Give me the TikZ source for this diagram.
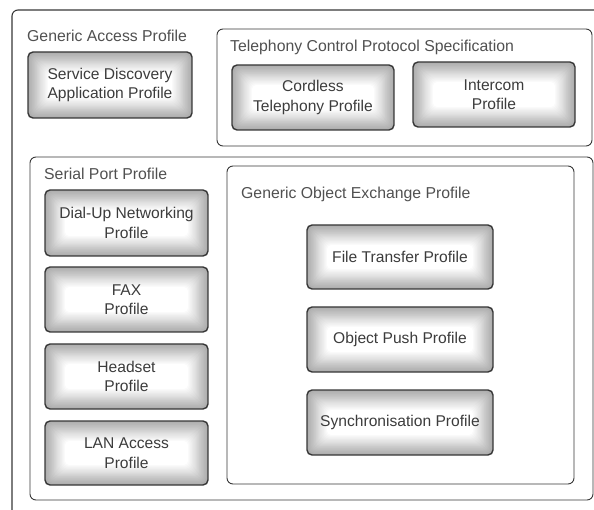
\documentclass[tikz,border=0pt]{standalone}
\usepackage{fontspec}
\setmainfont{Liberation Sans}
\definecolor{edgegray}{RGB}{172,172,172}
\definecolor{ink}{RGB}{60,60,60}
\definecolor{titleink}{RGB}{80,80,80}
\definecolor{frame}{RGB}{55,55,55}
\tikzset{
  % shaded profile box: grey rim fading to a white centre
  profile/.style={draw=frame, line width=1.4pt, rounded corners=5pt,
    align=center, text=ink, inner sep=0pt,
    font=\fontsize{15.6}{19.5}\selectfont,
    path picture={
      \foreach \i in {0,...,18}{
        \pgfmathtruncatemacro\w{\i*100/18}
        \pgfmathsetmacro\d{\i*1.1}
        \fill[white!\w!edgegray, rounded corners=5pt]
          ([xshift=\d pt, yshift=\d pt]path picture bounding box.south west)
          rectangle
          ([xshift=-\d pt, yshift=-\d pt]path picture bounding box.north east);
      }
    }},
  group/.style={draw=frame, line width=0.9pt, rounded corners=6pt, inner sep=0pt},
  grouptitle/.style={anchor=west, inner sep=0pt, text=titleink,
    font=\fontsize{15.8}{18}\selectfont}
}
\begin{document}
\begin{tikzpicture}[x=1pt, y=-1pt]
  \useasboundingbox (0,0) rectangle (594,510);
  \clip (0,0) rectangle (594,510);

  % outermost frame, running off the right and bottom edges
  \node[group, line width=1.1pt, minimum width=598, minimum height=520] (gap) at (311,270) {};
  \node[grouptitle] (gaptitle) at (27,36) {Generic Access Profile};
  \node[profile, minimum width=164, minimum height=66] (sdap) at (110,85)
    {Service Discovery\\Application Profile};

  % telephony group
  \node[group, minimum width=375, minimum height=117] (tcs) at (404.5,87.5) {};
  \node[grouptitle] (tcstitle) at (230,47) {Telephony Control Protocol Specification};
  \node[profile, minimum width=162, minimum height=65] (ctp) at (313,97.5)
    {Cordless\\Telephony Profile};
  \node[profile, minimum width=162, minimum height=65] (icp) at (494,94.5)
    {Intercom\\Profile};

  % serial port group
  \node[group, minimum width=563, minimum height=343] (spp) at (311.5,328.5) {};
  \node[grouptitle] (spptitle) at (44,174) {Serial Port Profile};
  \node[profile, minimum width=163, minimum height=66] (dun) at (126.5,223)
    {Dial-Up Networking\\Profile};
  \node[profile, minimum width=163, minimum height=65] (fax) at (126.5,299.5)
    {FAX\\Profile};
  \node[profile, minimum width=163, minimum height=65] (hsp) at (126.5,376.5)
    {Headset\\Profile};
  \node[profile, minimum width=163, minimum height=64] (lap) at (126.5,453)
    {LAN Access\\Profile};

  % object exchange group
  \node[group, minimum width=347, minimum height=318] (goep) at (400.5,325) {};
  \node[grouptitle] (goeptitle) at (241,194) {Generic Object Exchange Profile};
  \node[profile, minimum width=186, minimum height=64] (ftp) at (400,257)
    {File Transfer Profile};
  \node[profile, minimum width=186, minimum height=65] (opp) at (400,339.5)
    {Object Push Profile};
  \node[profile, minimum width=186, minimum height=65] (syp) at (400,422.5)
    {Synchronisation Profile};
\end{tikzpicture}
\end{document}
